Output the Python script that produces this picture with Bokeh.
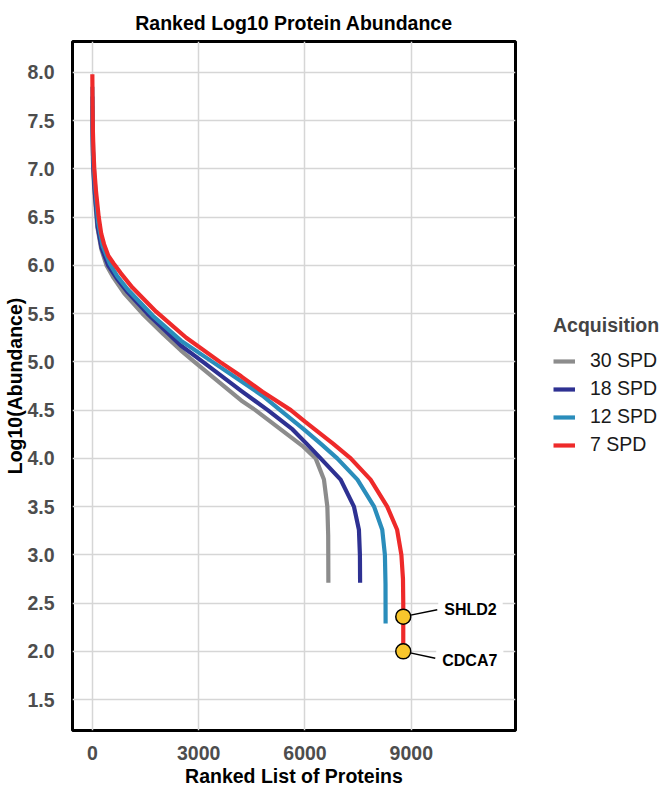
from bokeh.plotting import figure
from bokeh.models import Range1d, Legend, LegendItem, Label, FixedTicker, PrintfTickFormatter
from bokeh.layouts import row
from bokeh.embed import file_html
from bokeh.resources import INLINE

# ---- data ----
series_names = ["30 SPD", "18 SPD", "12 SPD", "7 SPD"]

rank_30 = [0, 5, 15, 30, 60, 140, 250, 400, 600, 900, 1415, 2000, 2495, 2880, 4200, 4600, 5314, 5926, 6301, 6535, 6631, 6655, 6660]
log_30 = [7.65, 7.35, 7.1, 6.95, 6.75, 6.4, 6.17, 6.0, 5.87, 5.71, 5.5, 5.29, 5.12, 5.0, 4.6, 4.5, 4.3, 4.13, 4.0, 3.78, 3.5, 3.2, 2.71]

rank_18 = [0, 5, 15, 30, 60, 150, 260, 446, 700, 1000, 1556, 2495, 3120, 4200, 4950, 5650, 6050, 6442, 7006, 7382, 7522, 7550, 7555]
log_18 = [7.75, 7.45, 7.2, 7.0, 6.8, 6.4, 6.18, 6.0, 5.86, 5.72, 5.5, 5.17, 5.0, 4.7, 4.5, 4.3, 4.15, 4.0, 3.78, 3.5, 3.26, 3.0, 2.71]

rank_12 = [0, 5, 15, 30, 60, 160, 290, 490, 700, 1000, 1700, 2500, 3390, 4200, 4800, 5300, 5970, 6450, 6910, 7480, 7950, 8180, 8255, 8272, 8275]
log_12 = [7.85, 7.55, 7.3, 7.1, 6.9, 6.45, 6.2, 6.02, 5.89, 5.75, 5.48, 5.22, 5.0, 4.8, 4.65, 4.5, 4.30, 4.15, 4.0, 3.78, 3.5, 3.26, 3.0, 2.7, 2.29]

rank_7 = [0, 5, 15, 30, 55, 100, 180, 250, 330, 450, 600, 800, 1130, 1800, 2650, 3600, 4200, 4800, 5600, 6000, 6350, 6800, 7290, 7850, 8320, 8600, 8720, 8765, 8773, 8773]
log_7 = [7.98, 7.7, 7.4, 7.2, 7.0, 6.78, 6.5, 6.33, 6.22, 6.1, 6.02, 5.92, 5.77, 5.52, 5.25, 5.0, 4.85, 4.69, 4.5, 4.38, 4.28, 4.15, 4.0, 3.78, 3.5, 3.26, 3.0, 2.75, 2.5, 2.0]

highlight_genes = ["SHLD2", "CDCA7"]
highlight_rank = [8773, 8773]
highlight_log = [2.36, 2.00]

x_ticks = [0, 3000, 6000, 9000]
y_ticks = [1.5, 2.0, 2.5, 3.0, 3.5, 4.0, 4.5, 5.0, 5.5, 6.0, 6.5, 7.0, 7.5, 8.0]

colors = ["#8C8C8C", "#2E3192", "#2A8DBB", "#EE2A2A"]

FONT = "Liberation Sans"
FS = "19.5px"
X0, X1 = -560, 11940
Y0, Y1 = 1.18, 8.32
FRAME_W, FRAME_H = 443, 691

p = figure(width=530, height=789, x_range=Range1d(X0, X1), y_range=Range1d(Y0, Y1),
           output_backend="svg", toolbar_location=None,
           min_border_left=72, min_border_right=15, min_border_top=41, min_border_bottom=57,
           title="Ranked Log10 Protein Abundance")

p.title.text_font = FONT
p.title.text_font_size = FS
p.title.text_font_style = "bold"
p.title.align = "center"
p.title.text_color = "black"
p.title.standoff = 16

p.outline_line_color = "black"
p.outline_line_width = 3
p.background_fill_color = "white"
p.border_fill_color = "white"

for ax in (p.xaxis[0], p.yaxis[0]):
    ax.axis_line_color = None
    ax.major_tick_line_color = None
    ax.minor_tick_line_color = None
    ax.major_label_text_font = FONT
    ax.major_label_text_font_style = "bold"
    ax.major_label_text_font_size = FS
    ax.major_label_text_color = "#4D4D4D"
    ax.axis_label_text_font = FONT
    ax.axis_label_text_font_style = "bold"
    ax.axis_label_text_font_size = FS
    ax.axis_label_text_color = "black"

p.xaxis.ticker = FixedTicker(ticks=x_ticks)
p.yaxis.ticker = FixedTicker(ticks=y_ticks)
p.yaxis.formatter = PrintfTickFormatter(format="%.1f")
p.xaxis.axis_label = "Ranked List of Proteins"
p.yaxis.axis_label = "Log10(Abundance)"
p.xaxis.major_label_standoff = 9
p.yaxis.major_label_standoff = 12
p.xaxis.axis_label_standoff = 2
p.yaxis.axis_label_standoff = -2

for g in (p.xgrid[0], p.ygrid[0]):
    g.grid_line_color = "#D6D6D6"
    g.grid_line_width = 1.5
p.xgrid.ticker = FixedTicker(ticks=x_ticks)
p.ygrid.ticker = FixedTicker(ticks=y_ticks)

for xs, ys, c in zip([rank_30, rank_18, rank_12, rank_7], [log_30, log_18, log_12, log_7], colors):
    p.line(xs, ys, line_color=c, line_width=4.2, line_join="round", line_cap="butt")

# highlighted proteins
px_x = (X1 - X0) / FRAME_W
px_y = (Y1 - Y0) / FRAME_H
lead_dx = [34, 32]
lead_dy = [7, -7]
lab_dx = [35, 33]
lab_dy = [7, -9]
p.segment(x0=highlight_rank, y0=highlight_log,
          x1=[x + d * px_x for x, d in zip(highlight_rank, lead_dx)],
          y1=[y + d * px_y for y, d in zip(highlight_log, lead_dy)],
          line_color="black", line_width=1.5)
p.scatter(highlight_rank, highlight_log, size=15, fill_color="#F8C62C", line_color="black", line_width=1.5)
for g, x, y, dx, dy in zip(highlight_genes, highlight_rank, highlight_log, lab_dx, lab_dy):
    p.add_layout(Label(x=x + dx * px_x, y=y + dy * px_y, text=g, text_font=FONT, text_font_size="16px",
                       text_font_style="bold", text_color="black", text_align="left", text_baseline="middle",
                       background_fill_color="white", padding=6))

# legend in a companion figure to the right (its lines sit outside its visible range)
leg = figure(width=132, height=789, x_range=Range1d(0, 1), y_range=Range1d(0, 1),
             output_backend="svg", toolbar_location=None, x_axis_type=None, y_axis_type=None,
             min_border=0, outline_line_color=None)
leg.background_fill_color = "white"
leg.border_fill_color = "white"
leg_renderers = [leg.line([5, 6], [5, 6], line_color=c, line_width=4.2) for c in colors]
legend = Legend(items=[LegendItem(label=n, renderers=[r]) for n, r in zip(series_names, leg_renderers)],
                title="Acquisition", location=(23, 274), orientation="vertical")
legend.title_text_font = FONT
legend.title_text_font_style = "bold"
legend.title_text_font_size = FS
legend.title_standoff = 12
legend.label_text_font = FONT
legend.label_text_font_size = FS
legend.label_text_color = "#1A1A1A"
legend.glyph_width = 22
legend.glyph_height = 20
legend.label_height = 20
legend.spacing = 5
legend.label_standoff = 15
legend.padding = 0
legend.margin = 0
legend.border_line_color = None
legend.background_fill_alpha = 0
leg.add_layout(legend, "center")

layout = row(p, leg)
open("out.html", "w").write(file_html(layout, INLINE))
